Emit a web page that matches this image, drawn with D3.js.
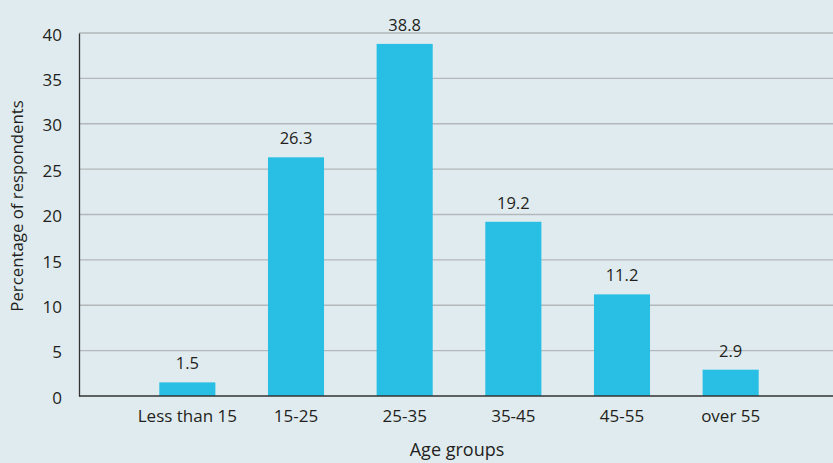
<!DOCTYPE html>
<html><head><meta charset="utf-8">
<script src="https://cdn.jsdelivr.net/npm/d3@7"></script>
<style>html,body{margin:0;padding:0;background:#e0ebef;}svg{display:block;}</style>
</head><body>
<svg id="c" width="833" height="463"></svg>
<script>
const categories = ["Less than 15","15-25","25-35","35-45","45-55","over 55"];
const values = [1.5, 26.3, 38.8, 19.2, 11.2, 2.9];
const yTicks = [0,5,10,15,20,25,30,35,40];
const yTitle = "Percentage of respondents";
const xTitle = "Age groups";

(function(){
const W = 833, H = 463;
const mLeft = 79, mRight = 833, mTop = 33, mBottom = 396;
const svg = d3.select("#c");
const font = "'Open Sans', sans-serif";
svg.append("rect").attr("width",W).attr("height",H).attr("fill","#e0ebef");

const y = d3.scaleLinear().domain([0,40]).range([mBottom, mTop]);
const x = d3.scaleBand().domain(categories).range([133, 785]).paddingInner(0.484).paddingOuter(0.242);

svg.append("g").selectAll("line").data(yTicks.filter(t=>t>0)).join("line")
  .attr("x1",mLeft).attr("x2",mRight).attr("y1",d=>y(d)).attr("y2",d=>y(d))
  .attr("stroke","#b3b8ba").attr("stroke-width",1.3);

const ya = svg.append("g").attr("transform",`translate(${mLeft},0)`)
  .call(d3.axisLeft(y).tickValues(yTicks).tickSize(0).tickPadding(17));
ya.select(".domain").attr("stroke","#333").attr("stroke-width",1.3);
ya.selectAll("text").attr("font-family",font).attr("font-size",17).attr("fill","#231f20").attr("dy","0.42em");

svg.append("g").selectAll("rect").data(values).join("rect")
  .attr("x",(d,i)=>x(categories[i])).attr("width",x.bandwidth())
  .attr("y",d=>y(d)).attr("height",d=>y(0)-y(d)).attr("fill","#29bfe4");

const xa = svg.append("g").attr("transform",`translate(0,${mBottom})`)
  .call(d3.axisBottom(x).tickSize(0).tickPadding(14));
xa.select(".domain").remove();
svg.append("line").attr("x1",mLeft).attr("x2",mRight).attr("y1",mBottom).attr("y2",mBottom)
  .attr("stroke","#333").attr("stroke-width",1.3);
xa.selectAll("text").attr("font-family",font).attr("font-size",17).attr("fill","#231f20");

svg.append("g").selectAll("text").data(values).join("text")
  .attr("x",(d,i)=>x(categories[i])+x.bandwidth()/2).attr("y",d=>y(d)-13)
  .attr("text-anchor","middle").attr("font-family",font).attr("font-size",16.5).attr("fill","#231f20")
  .text(d=>d.toFixed(1));

svg.append("text").attr("x",457).attr("y",456).attr("text-anchor","middle")
  .attr("font-family",font).attr("font-size",18).attr("fill","#231f20").text(xTitle);
svg.append("text").attr("transform","translate(23,206) rotate(-90)").attr("text-anchor","middle")
  .attr("font-family",font).attr("font-size",16.8).attr("fill","#231f20").text(yTitle);
})();
</script>
</body></html>
